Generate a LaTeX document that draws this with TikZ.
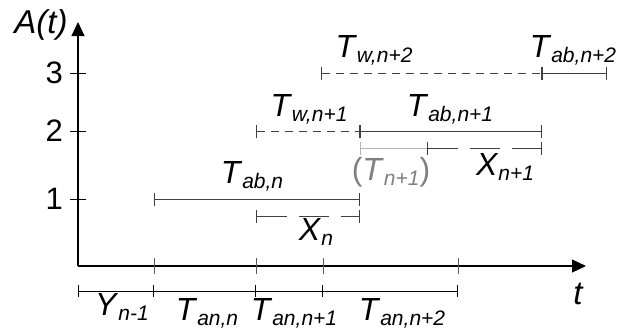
\documentclass[tikz,border=0pt]{standalone}
\usepackage{fontspec}
\setmainfont{Liberation Sans}
\usetikzlibrary{arrows.meta,positioning}

\newcommand{\tsub}[2]{\textit{#1}\raisebox{-5pt}{\fontsize{21}{21}\selectfont\textit{#2}}}

\begin{document}
\begin{tikzpicture}[x=1pt,y=-1pt,
  lab/.style={font=\fontsize{32}{34}\selectfont,inner sep=0pt,anchor=base},
  axlab/.style={font=\fontsize{31}{34}\selectfont,inner sep=0pt},
  axis/.style={line width=1.1pt,-{Triangle[length=14pt,width=13pt]}},
  intv/.style={draw=black!75,line width=0.9pt,{Bar[width=13pt]}-{Bar[width=13pt]}},
  wait/.style={intv,dash pattern=on 8pt off 6pt},
  part/.style={intv,dash pattern=on 30pt off 12pt},
  tick/.style={draw=black!65,line width=0.9pt}]
\useasboundingbox (0,0) rectangle (618,333);

% axes
\coordinate (o) at (78,266);
\coordinate (ytop) at (78,22);
\coordinate (xend) at (586,266);
\draw[axis] (o) -- (ytop);
\draw[axis] (o) -- (xend);
\node[lab,font=\fontsize{33}{34}\selectfont\itshape] (at) at (41,33) {A(t)};
\node[axlab,font=\fontsize{33}{34}\selectfont\itshape] (tt) at (578,294) {t};
\foreach \v/\y in {1/199,2/131,3/73}{
  \draw[line width=0.9pt] (70,\y) -- (86,\y);
  \node[axlab,anchor=east] (lev\v) at (63,\y) {\v};
}
\foreach \x in {154,256,323,458}
  \draw[tick] (\x,258) -- (\x,274);

% arrival times below the axis
\coordinate (b0) at (78,291);
\coordinate (b1) at (154,291);
\coordinate (b2) at (256,291);
\coordinate (b3) at (323,291);
\coordinate (b4) at (458,291);
\draw[intv,draw=black,{Bar[width=12pt]}-{Bar[width=12pt]}] (b0) -- (b1);
\draw[intv,draw=black,-{Bar[width=12pt]}] (b1) -- (b2);
\draw[intv,draw=black,-{Bar[width=12pt]}] (b2) -- (b3);
\draw[intv,draw=black,-{Bar[width=12pt]}] (b3) -- (b4);
\node[lab] (y1) at (122,315) {\tsub{Y}{n-1}};
\node[lab] (an1) at (207,320) {\tsub{T}{an,n}};
\node[lab] (an2) at (294,320) {\tsub{T}{an,n+1}};
\node[lab] (an3) at (402,320) {\tsub{T}{an,n+2}};

% level 1
\coordinate (ab1s) at (154,199);
\coordinate (ab1e) at (360,199);
\coordinate (x1s) at (256,216);
\coordinate (x1e) at (360,216);
\draw[intv] (ab1s) -- (ab1e);
\draw[part] (x1s) -- (x1e);
\node[lab] (tab1) at (252,183) {\tsub{T}{ab,n}};
\node[lab] (xn) at (316,240) {\tsub{X}{n}};

% level 2
\coordinate (w2s) at (256,131);
\coordinate (w2e) at (360,131);
\coordinate (ab2e) at (542,131);
\coordinate (tn) at (360,148);
\coordinate (x2s) at (427,148);
\coordinate (x2e) at (542,148);
\draw[wait] (w2s) -- (w2e);
\draw[intv] (w2e) -- (ab2e);
\draw[draw=black!30,line width=0.9pt,{Bar[width=13pt]}-] (tn) -- (x2s);
\draw[part] (x2s) -- (x2e);
\node[lab] (tw2) at (309,116) {\tsub{T}{w,n+1}};
\node[lab] (tab2) at (450,116) {\tsub{T}{ab,n+1}};
\node[lab,text=black!50] (tn1) at (391,180) {(\tsub{T}{n+1})};
\node[lab] (xn1) at (505,175) {\tsub{X}{n+1}};

% level 3
\coordinate (w3s) at (321,73);
\coordinate (w3e) at (542,73);
\coordinate (ab3e) at (607,73);
\draw[wait] (w3s) -- (w3e);
\draw[intv] (w3e) -- (ab3e);
\node[lab] (tw3) at (374,57) {\tsub{T}{w,n+2}};
\node[lab] (tab3) at (573,57) {\tsub{T}{ab,n+2}};
\end{tikzpicture}
\end{document}
